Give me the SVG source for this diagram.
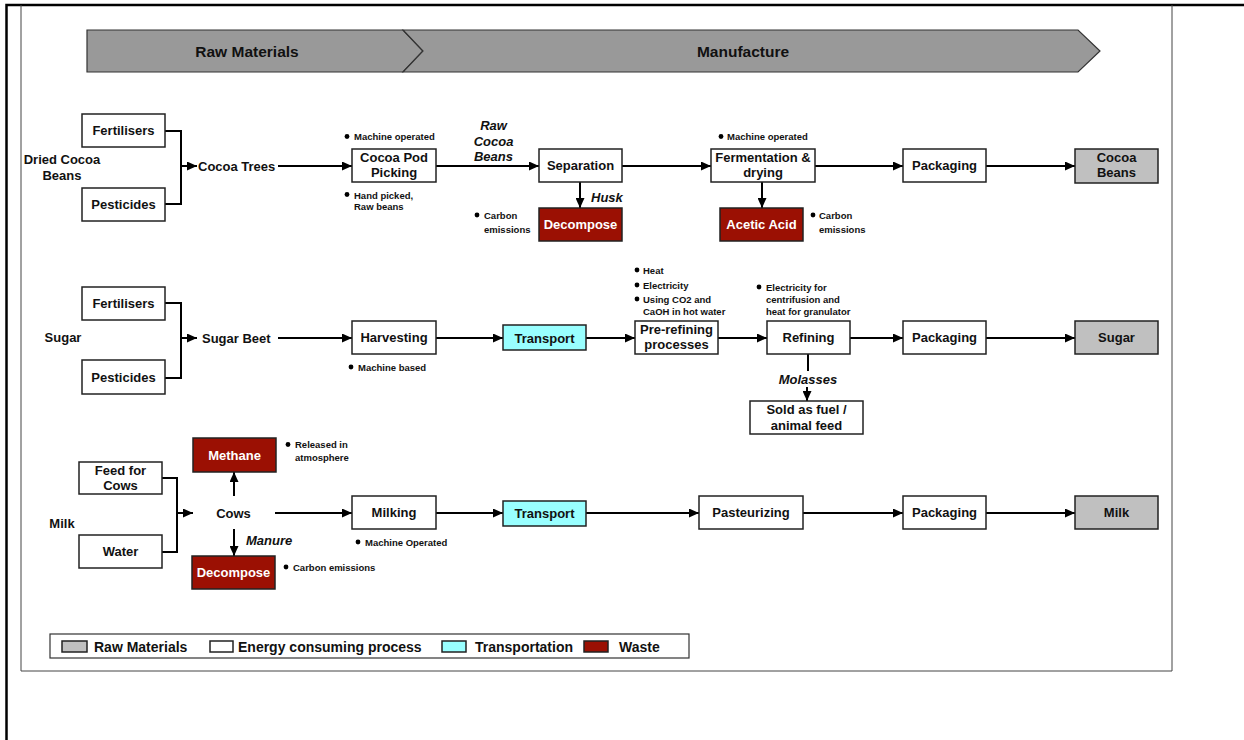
<svg xmlns="http://www.w3.org/2000/svg" width="1244" height="740" viewBox="0 0 1244 740">
  <defs>
    <marker id="ah" markerUnits="userSpaceOnUse" markerWidth="10" markerHeight="9" refX="10" refY="4.5" orient="auto">
      <path d="M0,0 L10,4.5 L0,9 z" fill="#000"/>
    </marker>
    <style>
      text { font-family: "Liberation Sans", Arial, sans-serif; font-weight: bold; fill: #111; }
      circle { fill: #000; }
      .box { fill: #fff; stroke: #222; stroke-width: 1.5; }
      .raw { fill: #c0c0c0; stroke: #222; stroke-width: 1.5; }
      .trans { fill: #99ffff; stroke: #222; stroke-width: 1.5; }
      .waste { fill: #9b1003; stroke: #222; stroke-width: 1.5; }
      .t { font-size: 13px; text-anchor: middle; }
      .tw { font-size: 13px; text-anchor: middle; fill: #fff; }
      .lbl { font-size: 13px; }
      .it { font-size: 13px; font-style: italic; }
      .note { font-size: 9.5px; }
      .hdr { font-size: 15.5px; text-anchor: middle; }
      .leg { font-size: 14px; }
      .conn { fill: none; stroke: #000; stroke-width: 2; }
      .arr { fill: none; stroke: #000; stroke-width: 2; marker-end: url(#ah); }
      .frame { fill: none; stroke: #000; stroke-width: 2.5; }
      .inner { fill: none; stroke: #444; stroke-width: 1; }
    </style>
  </defs>

  <rect width="1244" height="740" fill="#fff"/>

  <!-- page frame -->
  <g id="frame">
    <path class="frame" d="M6.5,740 V5 H1244"/>
    <path class="inner" d="M21,5 V671 H1172 V5"/>
  </g>

  <!-- stage header chevrons -->
  <g id="stage-raw">
    <polygon points="87,30 403,30 423,51 403,72 87,72" fill="#999" stroke="#333" stroke-width="1.2"/>
    <text class="hdr" x="247" y="57">Raw Materials</text>
  </g>
  <g id="stage-manufacture">
    <polygon points="403,30 1078,30 1100,51 1078,72 403,72 423,51" fill="#999" stroke="#333" stroke-width="1.2"/>
    <text class="hdr" x="743" y="57">Manufacture</text>
  </g>

  <!-- row labels -->
  <g id="row-labels">
    <text class="t" x="62" y="164">Dried Cocoa</text>
    <text class="t" x="62" y="180">Beans</text>
    <text class="t" x="63" y="342">Sugar</text>
    <text class="t" x="62" y="528">Milk</text>
  </g>

  <!-- connectors -->
  <g id="connectors">
    <!-- cocoa -->
    <path class="conn" d="M165,131 H181 V204 H165"/>
    <path class="arr" d="M181,166 H197"/>
    <path class="arr" d="M278,166 H352"/>
    <path class="arr" d="M436,166 H539"/>
    <path class="arr" d="M580,182 V208"/>
    <path class="arr" d="M622,166 H711"/>
    <path class="arr" d="M762,182 V208"/>
    <path class="arr" d="M815,166 H903"/>
    <path class="arr" d="M986,166 H1075"/>
    <!-- sugar -->
    <path class="conn" d="M165,303 H181 V378 H165"/>
    <path class="arr" d="M181,338 H197"/>
    <path class="arr" d="M278,338 H352"/>
    <path class="arr" d="M436,338 H503"/>
    <path class="arr" d="M586,338 H635"/>
    <path class="arr" d="M718,338 H767"/>
    <path class="conn" d="M808,354 V371"/>
    <path class="arr" d="M807,387 V401"/>
    <path class="arr" d="M850,338 H903"/>
    <path class="arr" d="M986,338 H1075"/>
    <!-- milk -->
    <path class="conn" d="M162,478 H177 V552 H162"/>
    <path class="arr" d="M177,513 H193"/>
    <path class="arr" d="M234,496 V472"/>
    <path class="arr" d="M234,529 V556"/>
    <path class="arr" d="M275,513 H352"/>
    <path class="arr" d="M436,513 H503"/>
    <path class="arr" d="M586,513 H699"/>
    <path class="arr" d="M803,513 H903"/>
    <path class="arr" d="M986,513 H1075"/>
  </g>

  <!-- connector labels -->
  <g id="edge-labels">
    <text class="it" x="493.5" y="129.5" text-anchor="middle">Raw</text>
    <text class="it" x="493.5" y="145.5" text-anchor="middle">Cocoa</text>
    <text class="it" x="493.5" y="160.5" text-anchor="middle">Beans</text>
    <text class="it" x="591" y="201.5">Husk</text>
    <text class="it" x="808" y="383.5" text-anchor="middle">Molasses</text>
    <text class="it" x="246" y="544.5">Manure</text>
  </g>

  <!-- cocoa row -->
  <g id="cocoa-fertilisers"><rect class="box" x="82" y="114" width="83" height="33"/><text class="t" x="123.5" y="135">Fertilisers</text></g>
  <g id="cocoa-pesticides"><rect class="box" x="82" y="188" width="83" height="33"/><text class="t" x="123.5" y="209">Pesticides</text></g>
  <g id="cocoa-trees"><text class="lbl" x="198" y="170.5">Cocoa Trees</text></g>
  <g id="cocoa-pod-picking">
    <rect class="box" x="352" y="149" width="84" height="33"/>
    <text class="t" x="394" y="162">Cocoa Pod</text>
    <text class="t" x="394" y="177">Picking</text>
    <circle cx="347" cy="136.5" r="2.4"/><text class="note" x="354" y="140">Machine operated</text>
    <circle cx="347" cy="194.5" r="2.4"/><text class="note" x="354" y="198.5">Hand picked,</text>
    <text class="note" x="354" y="210">Raw beans</text>
  </g>
  <g id="cocoa-separation"><rect class="box" x="539" y="149" width="83" height="33"/><text class="t" x="580.5" y="170">Separation</text></g>
  <g id="cocoa-decompose">
    <rect class="waste" x="539" y="208" width="83" height="33"/><text class="tw" x="580.5" y="229">Decompose</text>
    <circle cx="477" cy="215" r="2.4"/><text class="note" x="484" y="218.5">Carbon</text>
    <text class="note" x="484" y="233">emissions</text>
  </g>
  <g id="cocoa-fermentation">
    <rect class="box" x="711" y="149" width="104" height="33"/>
    <text class="t" x="763" y="162">Fermentation &amp;</text>
    <text class="t" x="763" y="177">drying</text>
    <circle cx="721" cy="136.5" r="2.4"/><text class="note" x="727" y="140">Machine operated</text>
  </g>
  <g id="cocoa-acetic-acid">
    <rect class="waste" x="720" y="208" width="83" height="33"/><text class="tw" x="761.5" y="229">Acetic Acid</text>
    <circle cx="813" cy="215" r="2.4"/><text class="note" x="819" y="218.5">Carbon</text>
    <text class="note" x="819" y="233">emissions</text>
  </g>
  <g id="cocoa-packaging"><rect class="box" x="903" y="149" width="83" height="33"/><text class="t" x="944.5" y="170">Packaging</text></g>
  <g id="cocoa-beans">
    <rect class="raw" x="1075" y="149" width="83" height="34"/>
    <text class="t" x="1116.5" y="162">Cocoa</text>
    <text class="t" x="1116.5" y="177">Beans</text>
  </g>

  <!-- sugar row -->
  <g id="sugar-fertilisers"><rect class="box" x="82" y="287" width="83" height="33"/><text class="t" x="123.5" y="308">Fertilisers</text></g>
  <g id="sugar-pesticides"><rect class="box" x="82" y="360" width="83" height="34"/><text class="t" x="123.5" y="381.5">Pesticides</text></g>
  <g id="sugar-beet"><text class="lbl" x="202" y="342.5">Sugar Beet</text></g>
  <g id="sugar-harvesting">
    <rect class="box" x="352" y="321" width="84" height="33"/><text class="t" x="394" y="342">Harvesting</text>
    <circle cx="351" cy="367" r="2.4"/><text class="note" x="358" y="370.5">Machine based</text>
  </g>
  <g id="sugar-transport"><rect class="trans" x="503" y="325" width="83" height="25"/><text class="t" x="544.5" y="342.5">Transport</text></g>
  <g id="sugar-prerefining">
    <rect class="box" x="635" y="321" width="83" height="33"/>
    <text class="t" x="676.5" y="334">Pre-refining</text>
    <text class="t" x="676.5" y="349">processes</text>
    <circle cx="637" cy="270" r="2.4"/><text class="note" x="643" y="273.5">Heat</text>
    <circle cx="637" cy="285" r="2.4"/><text class="note" x="643" y="288.5">Electricity</text>
    <circle cx="637" cy="299" r="2.4"/><text class="note" x="643" y="302.5">Using CO2 and</text>
    <text class="note" x="643" y="314.5">CaOH in hot water</text>
  </g>
  <g id="sugar-refining">
    <rect class="box" x="767" y="321" width="83" height="33"/><text class="t" x="808.5" y="342">Refining</text>
    <circle cx="759" cy="287" r="2.4"/><text class="note" x="766" y="290.5">Electricity for</text>
    <text class="note" x="766" y="302.5">centrifusion and</text>
    <text class="note" x="766" y="314.5">heat for granulator</text>
  </g>
  <g id="sugar-molasses-use">
    <rect class="box" x="750" y="401" width="113" height="33"/>
    <text class="t" x="806.5" y="414">Sold as fuel /</text>
    <text class="t" x="806.5" y="429.5">animal feed</text>
  </g>
  <g id="sugar-packaging"><rect class="box" x="903" y="321" width="83" height="33"/><text class="t" x="944.5" y="342">Packaging</text></g>
  <g id="sugar-product"><rect class="raw" x="1075" y="321" width="83" height="33"/><text class="t" x="1116.5" y="342">Sugar</text></g>

  <!-- milk row -->
  <g id="milk-methane">
    <rect class="waste" x="193" y="438" width="83" height="34"/><text class="tw" x="234.5" y="459.5">Methane</text>
    <circle cx="288" cy="444.5" r="2.4"/><text class="note" x="295" y="448">Released in</text>
    <text class="note" x="295" y="460.5">atmosphere</text>
  </g>
  <g id="milk-feed">
    <rect class="box" x="79" y="462" width="83" height="32"/>
    <text class="t" x="120.5" y="475">Feed for</text>
    <text class="t" x="120.5" y="490">Cows</text>
  </g>
  <g id="milk-water"><rect class="box" x="79" y="535" width="83" height="33"/><text class="t" x="120.5" y="556">Water</text></g>
  <g id="milk-cows"><text class="t" x="233.5" y="517.5">Cows</text></g>
  <g id="milk-decompose">
    <rect class="waste" x="192" y="556" width="83" height="33"/><text class="tw" x="233.5" y="577">Decompose</text>
    <circle cx="286" cy="567" r="2.4"/><text class="note" x="293" y="570.5">Carbon emissions</text>
  </g>
  <g id="milk-milking">
    <rect class="box" x="352" y="496" width="84" height="33"/><text class="t" x="394" y="517">Milking</text>
    <circle cx="358" cy="542" r="2.4"/><text class="note" x="365" y="545.5">Machine Operated</text>
  </g>
  <g id="milk-transport"><rect class="trans" x="503" y="501" width="83" height="25"/><text class="t" x="544.5" y="518">Transport</text></g>
  <g id="milk-pasteurizing"><rect class="box" x="699" y="496" width="104" height="33"/><text class="t" x="751" y="517">Pasteurizing</text></g>
  <g id="milk-packaging"><rect class="box" x="903" y="496" width="83" height="33"/><text class="t" x="944.5" y="517">Packaging</text></g>
  <g id="milk-product"><rect class="raw" x="1075" y="496" width="83" height="33"/><text class="t" x="1116.5" y="517">Milk</text></g>

  <!-- legend -->
  <g id="legend">
    <rect x="50" y="634" width="639" height="24" fill="#fff" stroke="#333" stroke-width="1.2"/>
    <rect class="raw" x="62" y="641" width="25" height="11" stroke-width="1.2"/>
    <text class="leg" x="94" y="651.5">Raw Materials</text>
    <rect class="box" x="210" y="641" width="23" height="11" stroke-width="1.2"/>
    <text class="leg" x="238" y="651.5">Energy consuming process</text>
    <rect class="trans" x="442" y="641" width="24" height="11" stroke-width="1.2"/>
    <text class="leg" x="475" y="651.5">Transportation</text>
    <rect class="waste" x="584" y="641" width="24" height="11" stroke-width="1.2"/>
    <text class="leg" x="619" y="651.5">Waste</text>
  </g>
</svg>
